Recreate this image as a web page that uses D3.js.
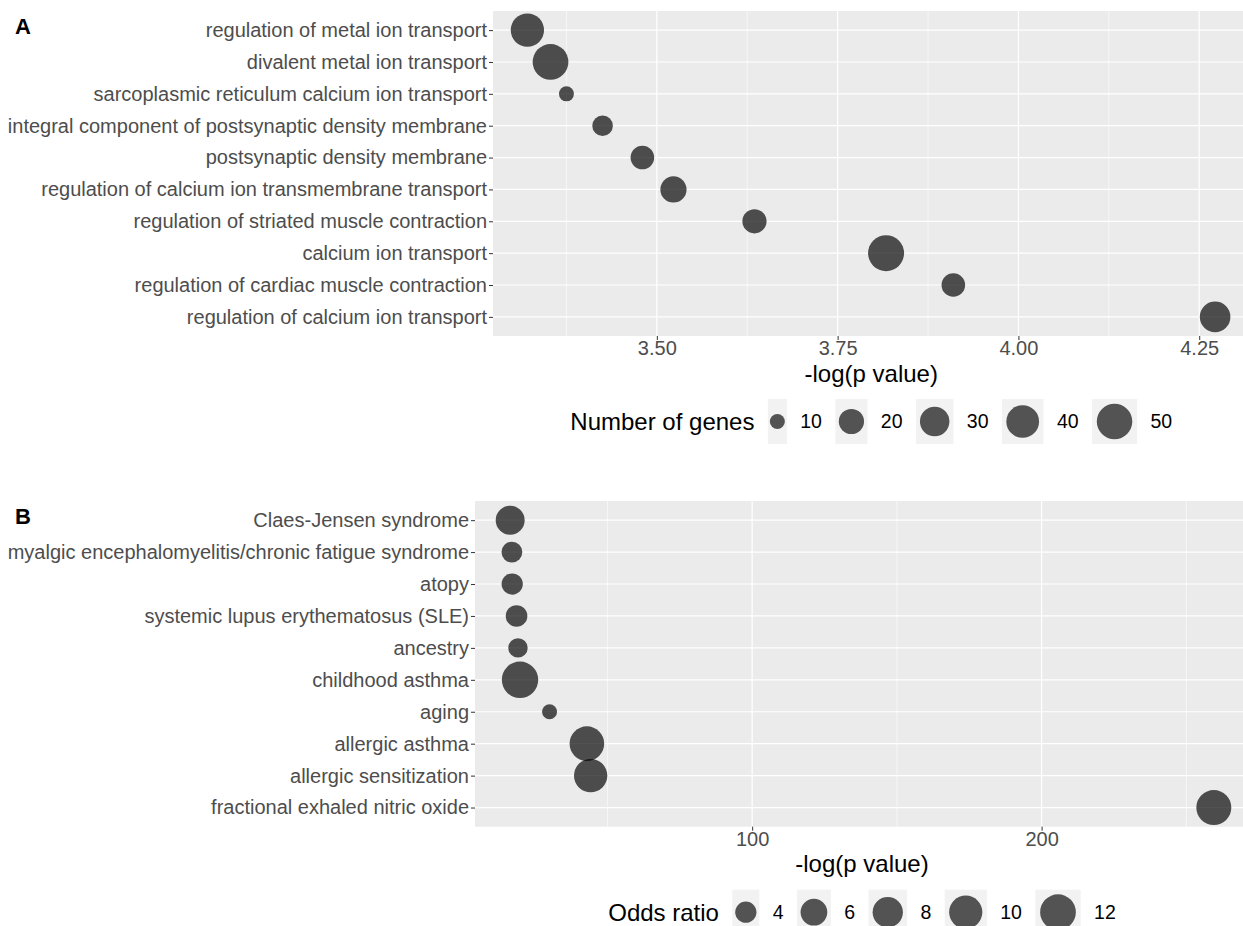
<!DOCTYPE html>
<html>
<head>
<meta charset="utf-8">
<script src="https://cdn.jsdelivr.net/npm/d3@7"></script>
<style>
 body{margin:0;background:#fff;overflow:hidden}
 text{font-family:"Liberation Sans",Arial,sans-serif}
</style>
</head>
<body>
<script>
// panel A : GO terms
var termsA = ["regulation of metal ion transport","divalent metal ion transport",
  "sarcoplasmic reticulum calcium ion transport","integral component of postsynaptic density membrane",
  "postsynaptic density membrane","regulation of calcium ion transmembrane transport",
  "regulation of striated muscle contraction","calcium ion transport",
  "regulation of cardiac muscle contraction","regulation of calcium ion transport"];
var logpA = [3.321,3.353,3.375,3.425,3.480,3.523,3.635,3.817,3.910,4.272];
var genesA = [42,51,10,13,17,22,18,52,17,33];
var genesBreaks = [10,20,30,40,50];
var xTicksA = [3.50,3.75,4.00,4.25];
var xMinorA = [3.375,3.625,3.875,4.125];

// panel B : traits
var traitsB = ["Claes-Jensen syndrome","myalgic encephalomyelitis/chronic fatigue syndrome","atopy",
  "systemic lupus erythematosus (SLE)","ancestry","childhood asthma","aging","allergic asthma",
  "allergic sensitization","fractional exhaled nitric oxide"];
var logpB = [16.4,17.0,17.1,18.6,19.1,19.8,30.0,42.9,44.2,259.5];
var oddsB = [7.2,3.9,4.0,4.1,3.6,12.6,3.2,11.1,10.1,11.4];
var oddsBreaks = [4,6,8,10,12];
var xTicksB = [100,200];
var xMinorB = [50,150,250];

var svg = d3.select("body").append("svg")
    .attr("width",1243)
    .attr("height",926);

function legend(g, title, breaks, r, lo, cx, cy)
{
  var lg = g.append("g");
  var t = lg.append("text").text(title)
      .attr("font-size",24).attr("fill","#000").attr("dy","0.35em");
  var xpos = t.node().getComputedTextLength() + 13.4;
  breaks.forEach(function(b){
    var rad = r(b-lo), kw = rad*2.54;
    lg.append("rect").attr("x",xpos).attr("y",-22.5)
      .attr("width",kw).attr("height",45).attr("fill","#F2F2F2");
    lg.append("circle").attr("cx",xpos+kw/2).attr("cy",0).attr("r",rad)
      .attr("fill","#000").attr("fill-opacity",0.66);
    xpos += kw + 13.4;
    var lab = lg.append("text").attr("x",xpos).attr("dy","0.35em").text(b)
      .attr("font-size",19.5).attr("fill","#000");
    xpos += lab.node().getComputedTextLength() + 13.4;
  });
  var total = xpos - 13.4;
  lg.attr("transform","translate("+(cx-total/2)+","+cy+")");
}

function panel(o)
{
  var g = svg.append("g");
  var ext = d3.extent(o.x), pad = (ext[1]-ext[0])*0.05;
  var x = d3.scaleLinear().domain([ext[0]-pad, ext[1]+pad]).range([o.left, o.right]);
  var y = d3.scalePoint().domain(o.cats).range([o.top, o.bottom]).padding(0.6);
  var sExt = d3.extent(o.size);
  var r = d3.scaleSqrt().domain([0, sExt[1]-sExt[0]]).range(o.rRange);

  g.append("rect").attr("x",o.left).attr("y",o.top)
    .attr("width",o.right-o.left).attr("height",o.bottom-o.top)
    .attr("fill","#EBEBEB");

  g.selectAll(".minor").data(o.minor).enter().append("line")
    .attr("x1",function(d){return x(d);}).attr("x2",function(d){return x(d);})
    .attr("y1",o.top).attr("y2",o.bottom)
    .attr("stroke","#fff").attr("stroke-width",0.6);
  g.selectAll(".major").data(o.ticks).enter().append("line")
    .attr("x1",function(d){return x(d);}).attr("x2",function(d){return x(d);})
    .attr("y1",o.top).attr("y2",o.bottom)
    .attr("stroke","#fff").attr("stroke-width",1.2);
  g.selectAll(".hline").data(o.cats).enter().append("line")
    .attr("x1",o.left).attr("x2",o.right)
    .attr("y1",function(d){return y(d);}).attr("y2",function(d){return y(d);})
    .attr("stroke","#fff").attr("stroke-width",1.2);

  g.selectAll(".dot").data(o.cats).enter().append("circle")
    .attr("cx",function(d,i){return x(o.x[i]);})
    .attr("cy",function(d){return y(d);})
    .attr("r",function(d,i){return r(o.size[i]-sExt[0]);})
    .attr("fill","#000").attr("fill-opacity",0.68);

  var ya = g.append("g").attr("transform","translate("+o.left+",0)")
    .call(d3.axisLeft(y).tickSize(4).tickPadding(2));
  var xa = g.append("g").attr("transform","translate(0,"+o.bottom+")")
    .call(d3.axisBottom(x).tickValues(o.ticks).tickFormat(o.fmt).tickSize(4).tickPadding(1));
  [ya,xa].forEach(function(a){
    a.select(".domain").remove();
    a.selectAll("line").attr("stroke","#333");
    a.selectAll("text").attr("fill","#4d4d4d").attr("font-size",20)
      .attr("font-family","Liberation Sans, Arial, sans-serif");
  });

  var cx = (o.left+o.right)/2;
  g.append("text").attr("x",cx).attr("y",o.bottom+45.5)
    .attr("text-anchor","middle").attr("font-size",24).attr("fill","#000")
    .text("-log(p value)");

  g.append("text").attr("x",15).attr("y",o.top+23)
    .attr("font-size",22).attr("font-weight","bold").attr("fill","#000")
    .text(o.tag);

  legend(g, o.legendTitle, o.breaks, r, sExt[0], cx, o.bottom+85.5);
}

panel({tag:"A", cats:termsA, x:logpA, size:genesA, breaks:genesBreaks,
  ticks:xTicksA, minor:xMinorA, fmt:d3.format(".2f"), legendTitle:"Number of genes",
  left:493, right:1249.5, top:11, bottom:336, rRange:[7.5,18]});

panel({tag:"B", cats:traitsB, x:logpB, size:oddsB, breaks:oddsBreaks,
  ticks:xTicksB, minor:xMinorB, fmt:d3.format("d"), legendTitle:"Odds ratio",
  left:475, right:1249, top:501, bottom:826.7, rRange:[7.5,18.2]});
</script>
</body>
</html>
